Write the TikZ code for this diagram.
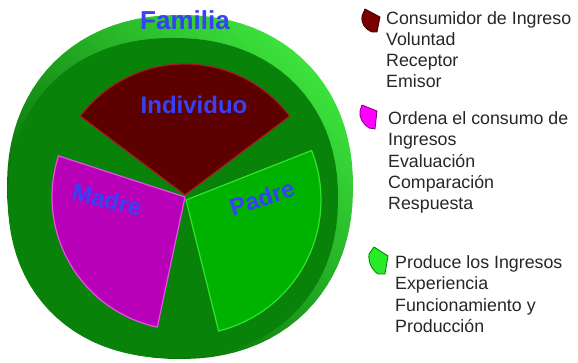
\documentclass[tikz,border=0pt]{standalone}
\usepackage{fontspec}
\setmainfont{Liberation Sans}
\definecolor{rimdark}{RGB}{0,95,0}
\definecolor{rimbright}{RGB}{60,225,60}
\definecolor{facegreen}{RGB}{8,130,8}
\definecolor{indfill}{RGB}{92,0,0}
\definecolor{indedge}{RGB}{165,30,30}
\definecolor{madfill}{RGB}{184,0,184}
\definecolor{madedge}{RGB}{230,80,230}
\definecolor{padfill}{RGB}{0,178,0}
\definecolor{padedge}{RGB}{50,228,50}
\definecolor{lblblue}{RGB}{55,65,245}
\tikzset{
  lbl/.style={font=\fontsize{24}{28}\selectfont\bfseries, text=lblblue, inner sep=0pt},
  legtext/.style={font=\fontsize{17.8}{21}\selectfont, text=black!85, anchor=base west, inner sep=0pt},
  icon/.style={line width=0.8pt, line join=round}
}
\begin{document}
\begin{tikzpicture}[x=1pt,y=-1pt]
\useasboundingbox (0,0) rectangle (578,363);
% outer rim (cylinder side)
\shade[left color=rimdark, right color=rimbright, shading angle=135]
  plot[domain=1:361,samples=91,variable=\t]
  ({180+173*sign(cos(\t))*abs(cos(\t))^0.92},{187+172*sign(sin(\t))*abs(sin(\t))^0.92}) -- cycle;
% front face
\fill[facegreen]
  plot[domain=1:361,samples=91,variable=\t]
  ({173+165*sign(cos(\t))*abs(cos(\t))^0.92},{198+160*sign(sin(\t))*abs(sin(\t))^0.92}) -- cycle;
% sectors
\coordinate (ci) at (185,195);
\coordinate (cm) at (185,197);
\coordinate (cp) at (186,200);
\filldraw[fill=indfill, draw=indedge, line width=1.2pt, line join=round]
  (ci) -- ++(-143:131) arc[start angle=-143, end angle=-37, radius=131] -- cycle;
\filldraw[fill=madfill, draw=madedge, line width=1.2pt, line join=round]
  (cm) -- ++(102:133) arc[start angle=102, end angle=198, radius=133] -- cycle;
\filldraw[fill=padfill, draw=padedge, line width=1.2pt, line join=round]
  (cp) -- ++(-21.5:135) arc[start angle=-21.5, end angle=76, radius=135] -- cycle;
% labels
\node[lbl, font=\fontsize{26}{30}\selectfont\bfseries] (familia) at (185,20.5) {Familia};
\node[lbl] (individuo) at (194,105) {Individuo};
\node[lbl, rotate=-14] (madre) at (107,200) {Madre};
\node[lbl, rotate=18] (padre) at (262,198) {Padre};
% legend icons
\filldraw[icon, fill={rgb,255:red,122;green,0;blue,0}, draw={rgb,255:red,60;green,0;blue,0}]
  (365,9) -- (380,17) -- (377,32) -- (372,32) .. controls (365,29) and (361,24) .. (362,16) -- cycle;
\filldraw[icon, fill={rgb,255:red,255;green,0;blue,255}, draw={rgb,255:red,128;green,0;blue,128}]
  (362,105) -- (377,111) -- (375,129) -- (369,128) .. controls (363,124) and (359,118) .. (360,111) -- cycle;
\filldraw[icon, fill={rgb,255:red,40;green,235;blue,40}, draw={rgb,255:red,0;green,120;blue,0}]
  (374,247) -- (388,256) -- (385,274) -- (378,274) .. controls (372,270) and (368,262) .. (369,254) -- cycle;
% legend texts
\node[legtext] (a1) at (386,25) {Consumidor de Ingreso};
\node[legtext] (a2) at (386,46) {Voluntad};
\node[legtext] (a3) at (386,67) {Receptor};
\node[legtext] (a4) at (386,88) {Emisor};
\node[legtext] (b1) at (388,125) {Ordena el consumo de};
\node[legtext] (b2) at (388,146) {Ingresos};
\node[legtext] (b3) at (388,168) {Evaluación};
\node[legtext] (b4) at (388,189) {Comparación};
\node[legtext] (b5) at (388,210) {Respuesta};
\node[legtext] (c1) at (395,269) {Produce los Ingresos};
\node[legtext] (c2) at (395,290) {Experiencia};
\node[legtext] (c3) at (395,311) {Funcionamiento y};
\node[legtext] (c4) at (395,332) {Producción};
\end{tikzpicture}
\end{document}
